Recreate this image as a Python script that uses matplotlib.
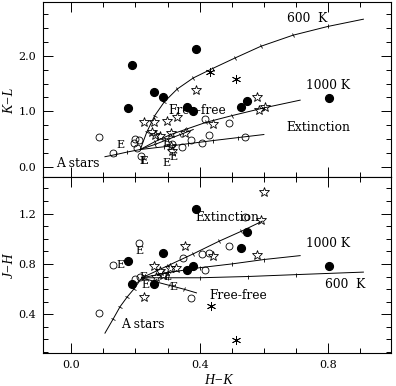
import numpy as np
import matplotlib
matplotlib.use("Agg")
import matplotlib.pyplot as plt
from matplotlib.markers import MarkerStyle
from matplotlib.transforms import Affine2D
from matplotlib.ticker import MultipleLocator

plt.rcParams['font.family'] = ['DejaVu Serif']

# ---- top panel: K-L vs H-K ----
top_filled_x = [0.176, 0.19, 0.258, 0.285, 0.36, 0.38, 0.388, 0.528, 0.548, 0.802]
top_filled_y = [1.05, 1.83, 1.35, 1.26, 1.08, 1.00, 2.13, 1.07, 1.18, 1.24]
top_open_x = [0.087, 0.13, 0.195, 0.20, 0.212, 0.205, 0.217, 0.313, 0.345, 0.373, 0.406, 0.417, 0.43, 0.492, 0.541]
top_open_y = [0.53, 0.25, 0.42, 0.50, 0.49, 0.33, 0.20, 0.41, 0.36, 0.48, 0.42, 0.86, 0.57, 0.78, 0.54]
top_star_x = [0.226, 0.258, 0.297, 0.328, 0.39, 0.44, 0.58, 0.585, 0.605, 0.25, 0.262, 0.275, 0.31, 0.355, 0.31, 0.315]
top_star_y = [0.81, 0.81, 0.83, 0.90, 1.38, 0.77, 1.25, 1.03, 1.08, 0.62, 0.58, 0.55, 0.60, 0.60, 0.38, 0.28]
top_ast_x = [0.432, 0.513]
top_ast_y = [1.71, 1.59]
top_e_x = [0.154, 0.225, 0.297, 0.318, 0.297]
top_e_y = [0.40, 0.12, 0.06, 0.18, 0.43]
top_e_bold = [False, True, False, False, False]

t600_x = [0.215, 0.235, 0.26, 0.29, 0.33, 0.38, 0.44, 0.51, 0.59, 0.69, 0.80, 0.91]
t600_y = [0.31, 0.62, 0.92, 1.17, 1.40, 1.60, 1.77, 1.96, 2.17, 2.37, 2.53, 2.66]
t1000_x = [0.215, 0.26, 0.31, 0.36, 0.42, 0.50, 0.60, 0.713]
t1000_y = [0.31, 0.45, 0.58, 0.68, 0.80, 0.92, 1.06, 1.20]
tff_x = [0.215, 0.26, 0.30, 0.34, 0.38]
tff_y = [0.31, 0.40, 0.49, 0.58, 0.67]
text_x = [0.215, 0.29, 0.365, 0.44, 0.52, 0.60]
text_y = [0.31, 0.36, 0.415, 0.47, 0.525, 0.58]
tA_x = [0.105, 0.14, 0.175, 0.215]
tA_y = [0.18, 0.22, 0.265, 0.31]

# ---- bottom panel: J-H vs H-K ----
bot_filled_x = [0.176, 0.19, 0.258, 0.285, 0.36, 0.38, 0.388, 0.528, 0.548, 0.802]
bot_filled_y = [0.826, 0.64, 0.64, 0.89, 0.75, 0.78, 1.24, 0.93, 1.05, 0.78]
bot_open_x = [0.087, 0.131, 0.212, 0.198, 0.214, 0.347, 0.373, 0.406, 0.43, 0.492, 0.417, 0.541]
bot_open_y = [0.41, 0.79, 0.965, 0.68, 0.70, 0.845, 0.53, 0.88, 0.885, 0.94, 0.75, 1.175]
bot_star_x = [0.226, 0.258, 0.264, 0.276, 0.285, 0.307, 0.326, 0.354, 0.44, 0.58, 0.59, 0.60]
bot_star_y = [0.535, 0.785, 0.70, 0.745, 0.71, 0.77, 0.77, 0.94, 0.86, 0.87, 1.15, 1.375]
bot_ast_x = [0.435, 0.513]
bot_ast_y = [0.466, 0.196]
bot_e_x = [0.212, 0.152, 0.224, 0.23, 0.30, 0.318]
bot_e_y = [0.90, 0.79, 0.70, 0.63, 0.70, 0.62]
bot_e_bold = [False] * 6

bA_x = [0.105, 0.13, 0.152, 0.175, 0.195, 0.22]
bA_y = [0.25, 0.36, 0.46, 0.54, 0.60, 0.69]
bext_x = [0.22, 0.30, 0.38, 0.46, 0.53, 0.595]
bext_y = [0.69, 0.785, 0.88, 0.98, 1.06, 1.14]
b1000_x = [0.22, 0.30, 0.40, 0.50, 0.60, 0.713]
b1000_y = [0.69, 0.73, 0.77, 0.80, 0.835, 0.866]
b600_x = [0.22, 0.30, 0.40, 0.55, 0.70, 0.91]
b600_y = [0.69, 0.69, 0.69, 0.70, 0.715, 0.735]
bff_x = [0.22, 0.26, 0.305, 0.35, 0.39]
bff_y = [0.69, 0.66, 0.63, 0.60, 0.57]

fig = plt.figure(figsize=(3.96, 3.86), dpi=100)
ax1 = fig.add_axes([43/396, (386-177)/386, 348/396, 175/386])
ax2 = fig.add_axes([43/396, (386-353)/386, 348/396, 176/386])

ax1.set_xlim(-0.088, 0.996)
ax1.set_ylim(-0.186, 2.97)
ax2.set_xlim(-0.088, 0.996)
ax2.set_ylim(0.092, 1.491)


def ticked(ax, xs, ys):
    # line with little perpendicular ticks at the vertices
    ax.plot(xs, ys, color='k', lw=0.7, zorder=2)
    pts = ax.transData.transform(np.column_stack([xs, ys]))
    for i in range(1, len(xs) - 1):
        d = pts[i + 1] - pts[i - 1]
        ang = np.degrees(np.arctan2(d[1], d[0]))
        m = MarkerStyle('|', transform=Affine2D().rotate_deg(ang))
        ax.plot(xs[i], ys[i], marker=m, color='k', ms=3.0, mew=0.6, zorder=2)


def points(ax, fx, fy, ox, oy, sx, sy, ax_, ay, ex, ey, eb):
    ax.plot(fx, fy, 'o', color='k', ms=5.6, zorder=3)
    ax.plot(ox, oy, 'o', mfc='none', mec='k', ms=5.0, mew=0.6, zorder=3)
    ax.plot(sx, sy, '*', mfc='none', mec='k', ms=7.5, mew=0.6, zorder=3)
    ax.plot(ax_, ay, marker=(6, 2, 0), ls='none', color='k', ms=6.5, mew=0.6, zorder=3)
    for x, y, b in zip(ex, ey, eb):
        ax.text(x, y, 'E', fontsize=8, ha='center', va='center', zorder=4,
                fontweight='bold' if b else 'normal')


for l in [(t600_x, t600_y), (t1000_x, t1000_y), (tff_x, tff_y), (text_x, text_y), (tA_x, tA_y)]:
    ticked(ax1, *l)
for l in [(bA_x, bA_y), (bext_x, bext_y), (b1000_x, b1000_y), (b600_x, b600_y), (bff_x, bff_y)]:
    ticked(ax2, *l)

points(ax1, top_filled_x, top_filled_y, top_open_x, top_open_y, top_star_x, top_star_y,
       top_ast_x, top_ast_y, top_e_x, top_e_y, top_e_bold)
points(ax2, bot_filled_x, bot_filled_y, bot_open_x, bot_open_y, bot_star_x, bot_star_y,
       bot_ast_x, bot_ast_y, bot_e_x, bot_e_y, bot_e_bold)

fs = 8.8
ax1.text(0.734, 2.68, '600  K', fontsize=fs, ha='center', va='center')
ax1.text(0.80, 1.47, '1000 K', fontsize=fs, ha='center', va='center')
ax1.text(0.77, 0.70, 'Extinction', fontsize=fs, ha='center', va='center')
ax1.text(0.394, 1.02, 'Free-free', fontsize=fs, ha='center', va='center')
ax1.text(0.02, 0.06, 'A stars', fontsize=fs, ha='center', va='center')

ax2.text(0.485, 1.17, 'Extinction', fontsize=fs, ha='center', va='center')
ax2.text(0.80, 0.96, '1000 K', fontsize=fs, ha='center', va='center')
ax2.text(0.853, 0.633, '600  K', fontsize=fs, ha='center', va='center')
ax2.text(0.52, 0.553, 'Free-free', fontsize=fs, ha='center', va='center')
ax2.text(0.224, 0.32, 'A stars', fontsize=fs, ha='center', va='center')

for ax in (ax1, ax2):
    ax.xaxis.set_major_locator(MultipleLocator(0.4))
    ax.xaxis.set_minor_locator(MultipleLocator(0.1))
    ax.tick_params(which='both', direction='in', top=True, right=True, width=0.7, labelsize=8)
    ax.tick_params(which='major', length=7, pad=5)
    ax.tick_params(which='minor', length=3.5)
    for s in ax.spines.values():
        s.set_linewidth(0.8)

ax1.yaxis.set_major_locator(MultipleLocator(1.0))
ax1.yaxis.set_minor_locator(MultipleLocator(0.25))
ax1.tick_params(labelbottom=False)
ax1.yaxis.set_major_formatter(plt.FormatStrFormatter('%.1f'))

ax2.yaxis.set_major_locator(MultipleLocator(0.4))
ax2.yaxis.set_minor_locator(MultipleLocator(0.1))
ax2.yaxis.set_major_formatter(plt.FormatStrFormatter('%.1f'))
ax2.xaxis.set_major_formatter(plt.FormatStrFormatter('%.1f'))

lab = dict(fontsize=10, family='Liberation Serif', style='italic')
ax1.set_ylabel('K\u2212L', **lab)
ax1.yaxis.set_label_coords(-0.078, 0.434)
ax2.set_ylabel('J\u2212H', **lab)
ax2.yaxis.set_label_coords(-0.078, 0.5)
ax2.set_xlabel('H\u2212K', **lab)
ax2.xaxis.set_label_coords(0.503, -0.118)

fig.savefig('out.png', dpi=100)
